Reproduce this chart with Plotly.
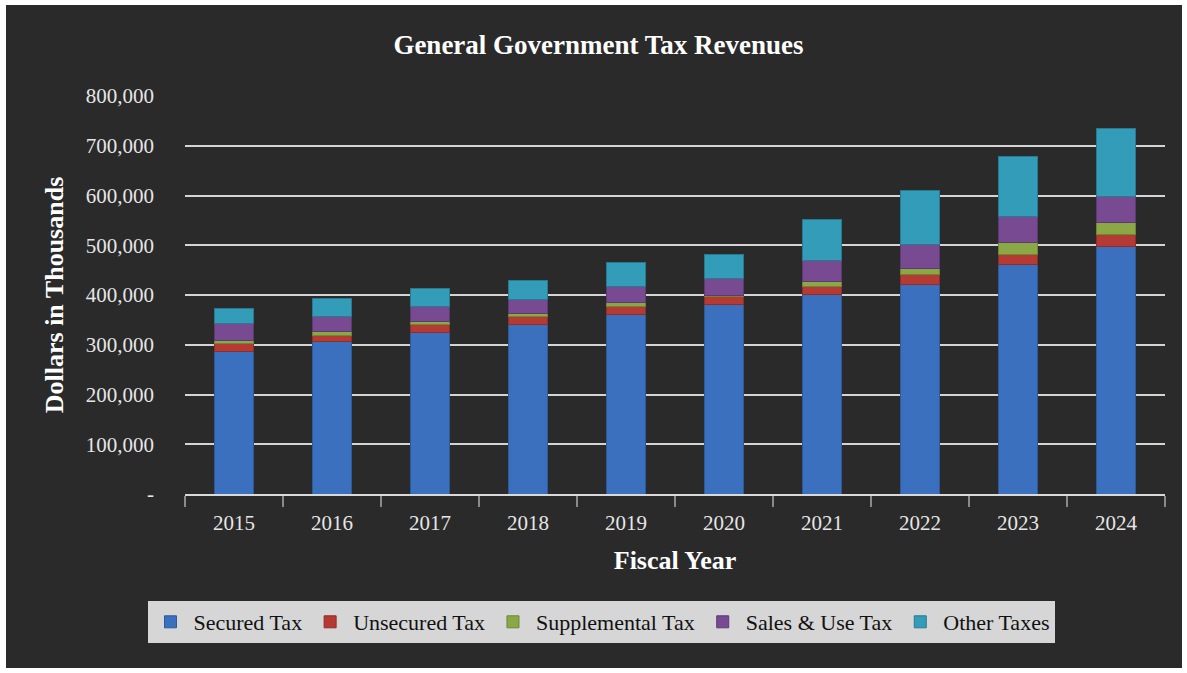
import plotly.graph_objects as go

years = ["2015", "2016", "2017", "2018", "2019", "2020", "2021", "2022", "2023", "2024"]
secured_tax = [287000, 307500, 324000, 340000, 360000, 380000, 400500, 421000, 461000, 497000]
unsecured_tax = [16000, 12000, 16000, 16000, 16000, 16000, 16000, 21000, 21000, 24000]
supplemental_tax = [4600, 8000, 7400, 7400, 8000, 4000, 11400, 11000, 23000, 24000]
sales_use_tax = [36000, 29000, 29000, 28000, 33000, 33000, 41600, 48000, 53000, 52000]
other_taxes = [29000, 37000, 37000, 37000, 48000, 48000, 83000, 108500, 121000, 137000]

series = [
    ("Secured Tax", secured_tax, "#3a70be", "#2d5a99"),
    ("Unsecured Tax", unsecured_tax, "#b53a33", "#8f2d28"),
    ("Supplemental Tax", supplemental_tax, "#8aa845", "#6d8636"),
    ("Sales & Use Tax", sales_use_tax, "#774a92", "#5d3a72"),
    ("Other Taxes", other_taxes, "#339db9", "#277b91"),
]

ytick_vals = [0, 100000, 200000, 300000, 400000, 500000, 600000, 700000, 800000]
ytick_text = ["-", "100,000", "200,000", "300,000", "400,000", "500,000", "600,000", "700,000", "800,000"]

FONT = "Liberation Serif, Times New Roman, serif"
BG = "#2a2a2a"

fig = go.Figure()
for name, vals, color, edge in series:
    fig.add_trace(go.Bar(
        x=years, y=vals, name=name,
        marker=dict(color=color, line=dict(color=edge, width=1)),
    ))

W, H = 1187, 673
L, R, T, B = 185, 22, 96, 179
pw, ph = W - L - R, H - T - B

def px(x):
    return (x - L) / pw

def py(y):
    return (H - B - y) / ph

fig.update_layout(
    width=W, height=H,
    barmode="stack",
    bargap=0.612,
    paper_bgcolor="white",
    plot_bgcolor="rgba(0,0,0,0)",
    margin=dict(l=L, r=R, t=T, b=B, pad=0),
    font=dict(family=FONT, color="#e6e6e6", size=21),
    title=dict(
        text="<b>General Government Tax Revenues</b>",
        font=dict(family=FONT, size=27, color="white"),
        x=px(598.5), xref="paper", xanchor="center",
        y=1 - 45 / H, yref="container", yanchor="middle",
    ),
    xaxis=dict(
        type="category",
        showgrid=False,
        showline=True, linecolor="#d9d9d9", linewidth=2,
        ticks="outside", tickson="boundaries", ticklen=11, tickcolor="#8a8a8a", tickwidth=2,
        ticklabelstandoff=9,
        tickfont=dict(family=FONT, size=21, color="#e6e6e6"),
        title=dict(text="<b>Fiscal Year</b>", font=dict(family=FONT, size=26, color="white"), standoff=17),
    ),
    yaxis=dict(
        range=[0, 800000],
        tickvals=ytick_vals, ticktext=ytick_text,
        showgrid=True, gridcolor="#d4d4d4", gridwidth=2,
        zeroline=False, showline=False,
        ticks="", ticklabelstandoff=30,
        tickfont=dict(family=FONT, size=21, color="#e6e6e6"),
        title=dict(text="<b>Dollars in Thousands</b>", font=dict(family=FONT, size=26, color="white"), standoff=14),
    ),
    legend=dict(
        orientation="h",
        x=px(601), xanchor="center",
        y=py(601), yanchor="top",
        bgcolor="#d6d6d6",
        font=dict(family=FONT, size=22, color="#111111"),
        traceorder="normal",
        itemwidth=36,
    ),
    shapes=[dict(
        type="rect", xref="paper", yref="paper", layer="below",
        x0=px(6), x1=px(1182), y0=py(668), y1=py(5),
        fillcolor=BG, line=dict(width=0),
    )],
)

fig.write_html("out.html", config={"displayModeBar": False},
               post_script="document.body.style.margin='0';")
